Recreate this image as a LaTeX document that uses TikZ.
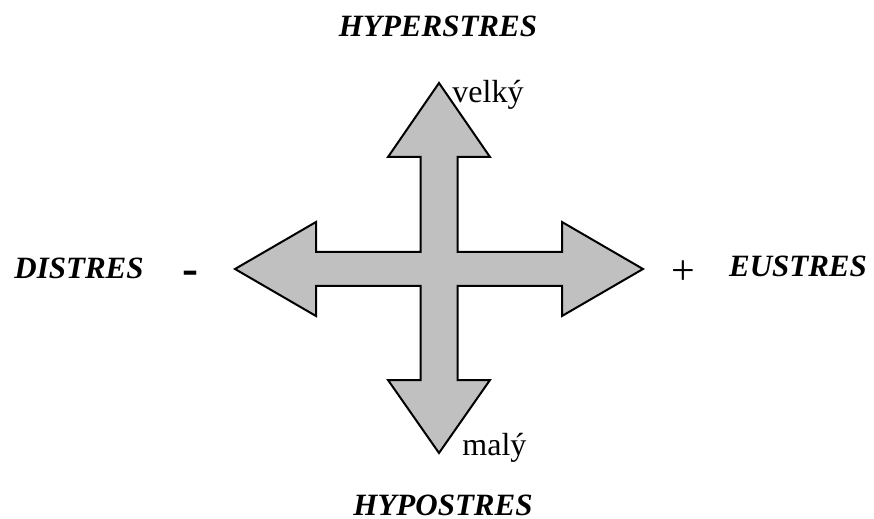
\documentclass[tikz,border=0pt]{standalone}
\usepackage{fontspec}
\setmainfont{Liberation Serif}
\definecolor{arrowgray}{RGB}{192,192,192}
\begin{document}
\begin{tikzpicture}[x=0.5pt, y=-0.5pt, line join=miter,
    stress/.style={font=\fontsize{15.5}{18}\selectfont\bfseries\itshape, inner sep=0pt},
    level/.style={font=\fontsize{16}{19}\selectfont, inner sep=0pt, anchor=base west},
    sign/.style={font=\fontsize{21}{25}\selectfont, inner sep=0pt, anchor=base}]
    \useasboundingbox (0,0) rectangle (874,519);
    \def\S{18.5}  % vertical shaft
    \def\T{17}    % horizontal shaft
    \def\V{51}    % head of up/down arrows
    \def\H{47}    % head of left/right arrows

    % Cross of four arrows
    \begin{scope}[shift={(439,269)}]
        \draw[line width=1pt, fill=arrowgray]
            (0,-186) -- (\V,-112) -- (\S,-112) -- (\S,-\T) -- (123,-\T) -- (123,-\H)
            -- (204,0) -- (123,\H) -- (123,\T) -- (\S,\T) -- (\S,111) -- (\V,111)
            -- (0,184) -- (-\V,111) -- (-\S,111) -- (-\S,\T) -- (-123,\T) -- (-123,\H)
            -- (-204,0) -- (-123,-\H) -- (-123,-\T) -- (-\S,-\T) -- (-\S,-112) -- (-\V,-112)
            -- cycle;
    \end{scope}

    % Labels
    \node[stress] (hyper) at (438,26) {HYPERSTRES};
    \node[stress] (hypo) at (443,505) {HYPOSTRES};
    \node[stress] (dis) at (79,268) {DISTRES};
    \node[stress] (eu) at (798,266) {EUSTRES};
    \node[sign, font=\fontsize{24}{28}\selectfont\bfseries] (minus) at (190,285) {-};
    \node[sign] (plus) at (683,285) {+};
    \node[level] (big) at (452,103) {velký};
    \node[level] (small) at (462,455) {malý};
\end{tikzpicture}
\end{document}
